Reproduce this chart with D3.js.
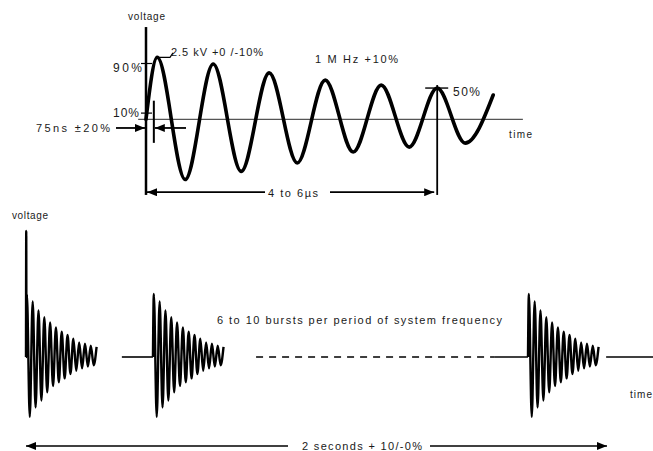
<!DOCTYPE html>
<html>
<head>
<meta charset="utf-8">
<script src="https://cdn.jsdelivr.net/npm/d3@7"></script>
<style>
  body { margin: 0; background: #fff; }
  svg { display: block; }
  text { font-family: "Liberation Sans", Arial, Helvetica, sans-serif; fill: #1a1a1a; }
</style>
</head>
<body>
<svg id="chart"></svg>
<script>
// ---- data: single ring wave (time in µs, voltage in kV) ----
const waveTimes = [0, 0.2, 0.7, 1.2, 1.7, 2.2, 2.7, 3.2, 3.7, 4.2, 4.7, 5.2, 5.7, 6.2];
const waveVolts = [0, 2.5, -2.43, 2.23, -2.1, 1.87, -1.76, 1.58, -1.32, 1.38, -1.12, 1.26, -0.96, 0.98];

// ---- data: burst train (time in s, relative amplitude) ----
const burstStarts = [0, 0.437, 1.728];
const burstSpikes = [2.0, 0, 0];
const burstCycle = 0.02;
const burstPeaks = [1.0, 0.88, 0.74, 0.63, 0.55, 0.47, 0.40, 0.35, 0.29, 0.23, 0.21, 0.18, 0.16];
const burstTroughs = [-0.95, -0.80, -0.69, -0.56, -0.46, -0.40, -0.34, -0.27, -0.22, -0.18, -0.15, -0.13];
const idleSegments = [
    { from: 0.33, to: 0.437, dashed: false },
    { from: 0.792, to: 1.614, dashed: true },
    { from: 1.614, to: 1.728, dashed: false },
    { from: 1.997, to: 2.16, dashed: false },
];

const width = 653, height = 451;

const svg = d3.select("#chart").attr("width", width).attr("height", height);

// arrow markers
const defs = svg.append("defs");
defs.append("marker")
    .attr("id", "arrow")
    .attr("viewBox", "0 0 10 8")
    .attr("refX", 10)
    .attr("refY", 4)
    .attr("markerWidth", 10)
    .attr("markerHeight", 8)
    .attr("markerUnits", "userSpaceOnUse")
    .attr("orient", "auto-start-reverse")
    .append("path")
    .attr("d", "M0,0 L10,4 L0,8 Z")
    .attr("fill", "#000");

// ===== top: single ring wave =====
const xTop = d3.scaleLinear().domain([0, 6.5]).range([146, 510]);
const yTop = d3.scaleLinear().domain([-3, 3]).range([193.7, 44.9]);
const topG = svg.append("g");

// time baseline
topG.append("line")
    .attr("x1", xTop(-0.14)).attr("x2", xTop(6.73))
    .attr("y1", yTop(0)).attr("y2", yTop(0))
    .attr("stroke", "#555").attr("stroke-width", 1.2);

// voltage axis
topG.append("line")
    .attr("x1", xTop(0)).attr("x2", xTop(0))
    .attr("y1", yTop(3.72)).attr("y2", yTop(-3.05))
    .attr("stroke", "#000").attr("stroke-width", 2.5);

// 90% / 10% ticks
[0.9, 0.1].forEach(p => {
    topG.append("line")
        .attr("x1", xTop(0) - 5).attr("x2", xTop(0) + 6)
        .attr("y1", yTop(2.5 * p)).attr("y2", yTop(2.5 * p))
        .attr("stroke", "#000").attr("stroke-width", 1.2);
});

// wave
const topLine = d3.line()
    .x((d, i) => xTop(waveTimes[i]))
    .y(d => yTop(d))
    .curve(d3.curveMonotoneX);

topG.append("path")
    .datum(waveVolts)
    .attr("d", topLine)
    .attr("fill", "none")
    .attr("stroke", "#000")
    .attr("stroke-width", 3.6)
    .attr("stroke-linejoin", "round")
    .attr("stroke-linecap", "round");

// rise time marker
const riseX = xTop(0.14);
topG.append("line")
    .attr("x1", riseX).attr("x2", riseX)
    .attr("y1", yTop(0.75)).attr("y2", yTop(-0.95))
    .attr("stroke", "#000").attr("stroke-width", 2);
topG.append("line")
    .attr("x1", 116).attr("x2", xTop(0) - 1)
    .attr("y1", yTop(-0.35)).attr("y2", yTop(-0.35))
    .attr("stroke", "#000").attr("stroke-width", 1.8)
    .attr("marker-end", "url(#arrow)");
topG.append("line")
    .attr("x1", 186).attr("x2", riseX + 1)
    .attr("y1", yTop(-0.35)).attr("y2", yTop(-0.35))
    .attr("stroke", "#000").attr("stroke-width", 1.8)
    .attr("marker-end", "url(#arrow)");

// peak leader
topG.append("polyline")
    .attr("points", [[xTop(0.2), yTop(2.5)], [170, yTop(2.5)], [173, yTop(2.68)]].map(p => p.join(",")).join(" "))
    .attr("fill", "none").attr("stroke", "#000").attr("stroke-width", 1.2);

// 50% marker at 6th peak
const p50x = xTop(waveTimes[11]);
topG.append("line")
    .attr("x1", p50x - 12).attr("x2", p50x + 11)
    .attr("y1", yTop(waveVolts[11])).attr("y2", yTop(waveVolts[11]))
    .attr("stroke", "#000").attr("stroke-width", 1.4);
topG.append("line")
    .attr("x1", p50x).attr("x2", p50x)
    .attr("y1", yTop(waveVolts[11]) - 3).attr("y2", yTop(-3.05))
    .attr("stroke", "#000").attr("stroke-width", 1.8);

// 4 to 6 µs dimension
const dimY = yTop(-2.94);
topG.append("line")
    .attr("x1", 265).attr("x2", xTop(0) + 1)
    .attr("y1", dimY).attr("y2", dimY)
    .attr("stroke", "#000").attr("stroke-width", 1.8)
    .attr("marker-end", "url(#arrow)");
topG.append("line")
    .attr("x1", 330).attr("x2", p50x - 3)
    .attr("y1", dimY).attr("y2", dimY)
    .attr("stroke", "#000").attr("stroke-width", 1.8)
    .attr("marker-end", "url(#arrow)");

// top labels
const topLabels = [
    { t: "voltage", x: 128, y: 20, s: 10, w: 37 },
    { t: "2.5  kV +0 /-10%", x: 171, y: 56, s: 11, w: 92 },
    { t: "90%", x: 113, y: 72, s: 12, w: 29 },
    { t: "10%", x: 113, y: 117, s: 12, w: 26 },
    { t: "75ns  \u00B120%", x: 36, y: 132, s: 11, w: 74 },
    { t: "1 M Hz  +10%", x: 315, y: 63, s: 11, w: 83 },
    { t: "50%", x: 453, y: 96, s: 12, w: 27 },
    { t: "time", x: 509, y: 138, s: 10, w: 23 },
    { t: "4 to 6\u00B5s", x: 268, y: 197, s: 11, w: 50 },
];

// ===== bottom: burst train =====
const xBot = d3.scaleLinear().domain([0, 2]).range([26, 607]);
const yBot = d3.scaleLinear().domain([-2, 2]).range([483, 231]);
const bottomG = svg.append("g");

idleSegments.forEach(seg => {
    bottomG.append("line")
        .attr("x1", xBot(seg.from)).attr("x2", xBot(seg.to))
        .attr("y1", yBot(0)).attr("y2", yBot(0))
        .attr("stroke", "#000").attr("stroke-width", 1.6)
        .attr("stroke-dasharray", seg.dashed ? "7,6" : null);
});

const burstLine = d3.line()
    .x(d => xBot(d[0]))
    .y(d => yBot(d[1]))
    .curve(d3.curveMonotoneX);

burstStarts.forEach((s, b) => {
    const pts = [[s, 0]];
    if (burstSpikes[b]) {
        pts.push([s + 0.0008, burstSpikes[b]]);
        pts.push([s + 0.0016, 0]);
    }
    burstPeaks.forEach((a, i) => {
        pts.push([s + (i + 0.15) * burstCycle, a]);
        if (i < burstTroughs.length) pts.push([s + (i + 0.65) * burstCycle, burstTroughs[i]]);
    });
    bottomG.append("path")
        .datum(pts)
        .attr("d", burstLine)
        .attr("fill", "none")
        .attr("stroke", "#000")
        .attr("stroke-width", 2.4)
        .attr("stroke-linejoin", "round");
});

// 2 seconds dimension
const secY = 446;
bottomG.append("line")
    .attr("x1", 288).attr("x2", xBot(0))
    .attr("y1", secY).attr("y2", secY)
    .attr("stroke", "#000").attr("stroke-width", 1.4)
    .attr("marker-end", "url(#arrow)");
bottomG.append("line")
    .attr("x1", 430).attr("x2", xBot(2))
    .attr("y1", secY).attr("y2", secY)
    .attr("stroke", "#000").attr("stroke-width", 1.4)
    .attr("marker-end", "url(#arrow)");

const bottomLabels = [
    { t: "voltage", x: 12, y: 219, s: 10, w: 36 },
    { t: "6 to 10 bursts per period of system frequency", x: 217, y: 324, s: 11, w: 285 },
    { t: "time", x: 630, y: 398, s: 10, w: 22 },
    { t: "2 seconds + 10/-0%", x: 302, y: 450, s: 11, w: 120 },
];

svg.append("g")
    .selectAll("text")
    .data(topLabels.concat(bottomLabels))
    .enter()
    .append("text")
    .attr("x", d => d.x)
    .attr("y", d => d.y)
    .attr("textLength", d => d.w)
    .attr("lengthAdjust", "spacing")
    .style("font-size", d => d.s + "px")
    .text(d => d.t);
</script>
</body>
</html>
